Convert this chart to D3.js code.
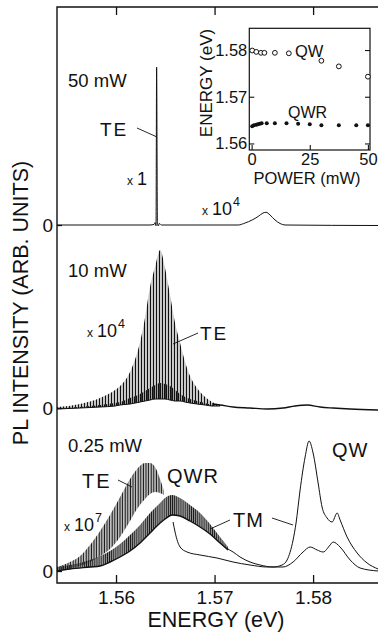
<!DOCTYPE html>
<html>
<head>
<meta charset="utf-8">
<script src="https://cdn.jsdelivr.net/npm/d3@7"></script>
<style>
  body { margin: 0; background: #fff; }
  text { font-family: "Liberation Sans", Arial, sans-serif; fill: #111; }
</style>
</head>
<body>
<svg id="chart" width="378" height="636"></svg>
<script>
// ---- data (energies in eV, intensities in arb. units) ----
const energyTicks = [1.56, 1.57, 1.58];
const panelOffset = [346, 163, 0]; // 50 mW, 10 mW, 0.25 mW traces

// 50 mW, TE
const e50 = [1.55401, 1.56345, 1.56386, 1.56396, 1.56406, 1.56412, 1.56420, 1.56430, 1.56440, 1.56460,
  1.57239, 1.57310, 1.57381, 1.57442, 1.57492, 1.57523, 1.57563, 1.57614, 1.57665, 1.57716, 1.58660];
const i50 = [0, 0, 0.6, 2.4, -0.8, 158, 2.8, -1, 1.6, 0,
  0, 2, 5, 8.5, 12, 12.7, 10, 5, 1.5, 0, -0.5];

// 10 mW, TE: fringe envelope (upper / lower / dense core) then plain trace
const e10band = [1.55401, 1.55635, 1.55838, 1.55990, 1.56041, 1.56142, 1.56244, 1.56294, 1.56345, 1.56396,
  1.56447, 1.56497, 1.56548, 1.56599, 1.56650, 1.56701, 1.56751, 1.56822, 1.56904, 1.56975, 1.57056];
const up10 = [1, 4, 10, 18, 22, 36, 66, 90, 121, 141, 158, 140, 113, 85, 65, 46, 32, 20, 11, 6, 3];
const low10 = [-1, 0, 1, 2, 3, 4, 6, 7, 8, 9, 9, 9, 8, 7, 7, 6, 5, 4, 3, 2, 2];
const core10 = [0, 1, 3, 5, 6, 10, 14, 17, 20, 23, 25, 24, 22, 18, 14, 11, 9, 7, 5, 3, 2];
const e10 = [1.56975, 1.57056, 1.57188, 1.57360, 1.57533, 1.57695, 1.57817, 1.57939, 1.58071, 1.58203, 1.58376, 1.58660];
const i10 = [4, 3, 1, 0, -1, 0, 2, 3, 1, 0, -1, -2];

// 0.25 mW, TE: fringe envelope (low energy) and trace (high energy)
const eTEband = [1.55401, 1.55533, 1.55635, 1.55736, 1.55838, 1.55939, 1.56041, 1.56142, 1.56213, 1.56294,
  1.56345, 1.56396, 1.56447, 1.56487];
const upTE = [4, 9, 15, 26, 40, 56, 74, 92, 102, 108, 108, 104, 92, 80];
const lowTE = [1, 3, 5, 9, 15, 22, 34, 50, 62, 72, 77, 79, 78, 76];
const eTE = [1.56579, 1.56599, 1.56650, 1.56721, 1.56853, 1.57025, 1.57188, 1.57360, 1.57533, 1.57695, 1.57797,
  1.57898, 1.57970, 1.58041, 1.58102, 1.58173, 1.58203, 1.58274, 1.58376, 1.58477, 1.58660];
const iTE = [49, 39, 24, 19, 16, 13, 9, 6, 4, 4, 9, 19, 24, 21, 19, 26, 29, 24, 11, 3, 0];

// 0.25 mW, TM: fringe envelope (QWR) and trace (QW)
const eTMband = [1.55401, 1.55533, 1.55736, 1.55838, 1.55939, 1.56041, 1.56142, 1.56244, 1.56345, 1.56447,
  1.56497, 1.56569, 1.56650, 1.56751, 1.56853, 1.56954, 1.57056, 1.57137];
const upTM = [4, 6, 11, 15, 20, 27, 36, 46, 58, 68, 73, 76, 73, 66, 58, 47, 34, 24];
const lowTM = [0, 2, 4, 5, 9, 14, 20, 28, 38, 48, 52, 56, 55, 50, 44, 37, 28, 21];
const eTM = [1.57117, 1.57188, 1.57259, 1.57360, 1.57462, 1.57594, 1.57685, 1.57736, 1.57797, 1.57827, 1.57868,
  1.57919, 1.57959, 1.58000, 1.58051, 1.58091, 1.58142, 1.58193, 1.58244, 1.58274, 1.58345, 1.58447, 1.58548, 1.58660];
const iTM = [23, 19, 14, 9, 6, 4, 6, 11, 31, 48, 81, 114, 130, 118, 88, 64, 53, 49, 58, 51, 34, 18, 8, 2];

// inset: peak energy vs. excitation power
const qwPower = [0.25, 2, 4, 5.5, 10, 16, 30, 37.5, 50];
const qwEnergy = [1.5799, 1.5796, 1.5794, 1.5794, 1.5794, 1.5793, 1.5777, 1.5765, 1.5743];
const qwrPower = [0.25, 1, 2, 2.7, 3.5, 4.3, 6.5, 10, 15, 20, 25, 30, 37.5, 45, 50];
const qwrEnergy = [1.5637, 1.5639, 1.5640, 1.5641, 1.5642, 1.5643, 1.5643, 1.5643, 1.5643, 1.5642, 1.5641,
  1.5639, 1.5639, 1.5639, 1.5639];
const powerTicks = [0, 25, 50];
const insetEnergyTicks = [1.56, 1.57, 1.58];

// ---- chart ----
const svg = d3.select('#chart');
const mLeft = 57, mTop = 7, mBottom = 583, mRight = 387;

const x = d3.scaleLinear().domain([1.55401, 1.5875]).range([mLeft, mRight]);
const y = d3.scaleLinear().domain([-12, 564]).range([mBottom, mTop]);

const defs = svg.append('defs');
function fringe(id, period, w1, w2, grey) {
  const p = defs.append('pattern').attr('id', id)
    .attr('patternUnits', 'userSpaceOnUse').attr('width', period).attr('height', 8);
  p.append('rect').attr('x', 0).attr('width', w1).attr('height', 8).attr('fill', '#111');
  p.append('rect').attr('x', period / 2 + 0.2).attr('width', w2).attr('height', 8).attr('fill', grey || '#8a8a8a');
}
fringe('fr10', 3, 1.1, 0.8);
fringe('frTE', 2.6, 1.0, 0.8, '#777');
fringe('frTM', 2.1, 1.0, 0.6, '#555');
fringe('frCore', 2.0, 1.0, 0.4, '#666');

function zip(es, vs) { return es.map((e, i) => [e, vs[i]]); }

function trace(es, vs, off, width) {
  const line = d3.line().x(d => x(d[0])).y(d => y(off + d[1])).curve(d3.curveMonotoneX);
  svg.append('path').attr('d', line(zip(es, vs)))
    .attr('fill', 'none').attr('stroke', '#111').attr('stroke-width', width || 1);
}

function band(es, lo, hi, off, pat) {
  const rows = es.map((e, i) => ({ e, lo: lo[i], hi: hi[i] }));
  const area = d3.area().x(d => x(d.e)).y0(d => y(off + d.lo)).y1(d => y(off + d.hi))
    .curve(d3.curveMonotoneX);
  svg.append('path').attr('d', area(rows)).attr('fill', `url(#${pat})`);
}

// 50 mW
trace(e50, i50, panelOffset[0], 1);

// 10 mW
band(e10band, low10, up10, panelOffset[1], 'fr10');
band(e10band, low10, core10, panelOffset[1], 'frCore');
trace(e10band, low10, panelOffset[1], 1);
trace(e10, i10, panelOffset[1], 1.3);

// 0.25 mW
band(eTEband, lowTE, upTE, panelOffset[2], 'frTE');
trace(eTE, iTE, panelOffset[2], 1);
band(eTMband, lowTM, upTM, panelOffset[2], 'frTM');
trace(eTMband, lowTM, panelOffset[2], 1.4);
trace(eTM, iTM, panelOffset[2], 1);

// frame and axes
svg.append('path')
  .attr('d', `M${mRight},${mTop}H${mLeft}V${mBottom}H${mRight}`)
  .attr('fill', 'none').attr('stroke', '#111').attr('stroke-width', 1.4);

const fmt2 = d3.format('.2f');
const gB = svg.append('g').attr('transform', `translate(0,${mBottom})`)
  .call(d3.axisBottom(x).tickValues(energyTicks).tickSize(-8).tickPadding(8).tickFormat(fmt2));
const gT = svg.append('g').attr('transform', `translate(0,${mTop})`)
  .call(d3.axisTop(x).tickValues(energyTicks).tickSize(-8).tickFormat(''));
const gL = svg.append('g').attr('transform', `translate(${mLeft},0)`)
  .call(d3.axisLeft(y).tickValues(panelOffset).tickSize(-5).tickPadding(4).tickFormat(() => '0'));

[gB, gT, gL].forEach(g => {
  g.select('.domain').remove();
  g.selectAll('line').attr('stroke', '#111').attr('stroke-width', 1.3);
  g.selectAll('text').attr('font-size', 19).attr('fill', '#111')
    .style('font-family', '"Liberation Sans", Arial, sans-serif');
});

svg.append('text').attr('x', 216).attr('y', 627).attr('text-anchor', 'middle')
  .attr('font-size', 21.5).text('ENERGY (eV)');
svg.append('text').attr('transform', 'translate(28,303) rotate(-90)').attr('text-anchor', 'middle')
  .attr('font-size', 21.5).text('PL INTENSITY (ARB. UNITS)');

// annotations
function label(px, py, str, size, spacing) {
  svg.append('text').attr('x', px).attr('y', py).attr('font-size', size)
    .attr('letter-spacing', spacing || 0).text(str);
}
function leader(x1, y1, x2, y2) {
  svg.append('line').attr('x1', x1).attr('y1', y1).attr('x2', x2).attr('y2', y2)
    .attr('stroke', '#111').attr('stroke-width', 0.9);
}
function factor(px, py, exp) {
  const t = svg.append('text').attr('x', px).attr('y', py);
  t.append('tspan').attr('font-size', 12).text('x');
  t.append('tspan').attr('font-size', 18).attr('dx', 4).text(exp ? '10' : '1');
  if (exp) t.append('tspan').attr('font-size', 12.5).attr('dx', 1).attr('dy', -9).text(exp);
}

label(68, 87, '50 mW', 18.5);
label(100, 136, 'TE', 19, 2);
leader(137, 128, 157, 137);
factor(127, 185, null);
factor(202, 215, '4');

label(68, 277, '10 mW', 18.5);
factor(87, 337, '4');
label(200, 340, 'TE', 19, 2);
leader(198, 333, 173, 344);

label(68, 452, '0.25 mW', 18.5);
label(82, 488, 'TE', 20, 2);
leader(118, 480, 132, 487);
label(167, 483, 'QWR', 20, 1);
factor(64, 531, '7');
label(233, 527, 'TM', 20, 1);
leader(230, 520, 210, 529);
leader(272, 518, 293, 525);
label(332, 457, 'QW', 20, 1);

// ---- inset ----
const ix = d3.scaleLinear().domain([-1, 50.9]).range([249.3, 370]);
const iy = d3.scaleLinear().domain([1.5586, 1.58465]).range([150, 28.3]);

svg.append('rect').attr('x', 249.3).attr('y', 28.3).attr('width', 370 - 249.3).attr('height', 150 - 28.3)
  .attr('fill', '#fff').attr('stroke', '#111').attr('stroke-width', 1.2);

const giL = svg.append('g').attr('transform', 'translate(249.3,0)')
  .call(d3.axisLeft(iy).tickValues(insetEnergyTicks).tickSize(-5).tickPadding(2).tickFormat(fmt2));
const giR = svg.append('g').attr('transform', 'translate(370,0)')
  .call(d3.axisRight(iy).tickValues(insetEnergyTicks).tickSize(-5).tickFormat(''));
const giB = svg.append('g').attr('transform', 'translate(0,150)')
  .call(d3.axisBottom(ix).tickValues(powerTicks).tickSize(-5).tickPadding(3));
[giL, giR, giB].forEach(g => {
  g.select('.domain').remove();
  g.selectAll('line').attr('stroke', '#111').attr('stroke-width', 1.1);
  g.selectAll('text').attr('font-size', 16.5).attr('fill', '#111')
    .style('font-family', '"Liberation Sans", Arial, sans-serif');
});

svg.append('text').attr('x', 307).attr('y', 184).attr('text-anchor', 'middle')
  .attr('font-size', 16.5).text('POWER (mW)');
svg.append('text').attr('transform', 'translate(212,83) rotate(-90)').attr('text-anchor', 'middle')
  .attr('font-size', 17).text('ENERGY (eV)');

svg.append('g').selectAll('circle').data(qwPower).join('circle')
  .attr('cx', (d, i) => ix(d)).attr('cy', (d, i) => iy(qwEnergy[i])).attr('r', 2.4)
  .attr('fill', '#fff').attr('stroke', '#111').attr('stroke-width', 1);
svg.append('g').selectAll('circle').data(qwrPower).join('circle')
  .attr('cx', (d, i) => ix(d)).attr('cy', (d, i) => iy(qwrEnergy[i])).attr('r', 2)
  .attr('fill', '#111');

label(295, 57, 'QW', 16.5);
label(288, 118, 'QWR', 16);
</script>
</body>
</html>
